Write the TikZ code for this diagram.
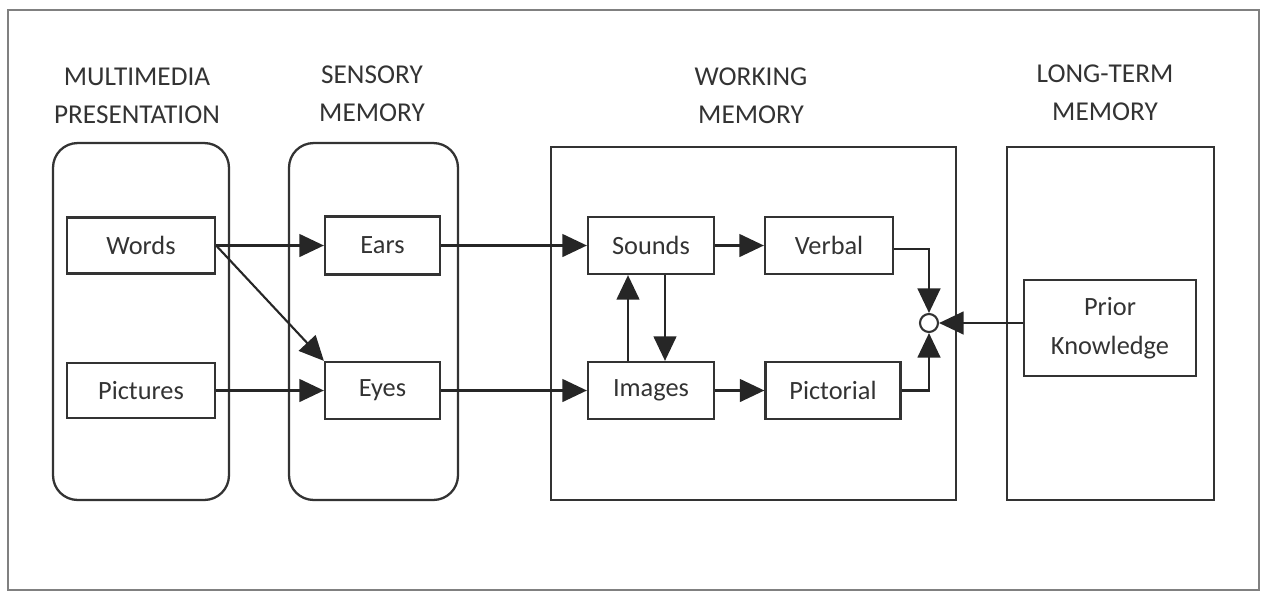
\documentclass[tikz,border=0pt]{standalone}
\usepackage{fontspec}
\setmainfont{Carlito}
\usetikzlibrary{arrows.meta}

\tikzset{
  stage/.style={draw=black!80, line width=1.3pt, inner sep=0pt},
  item/.style={draw=black!80, line width=1.3pt, inner sep=0pt, text=black!80,
    font=\fontsize{15}{22}\selectfont},
  head/.style={text=black!80, align=center, font=\fontsize{15.5}{21.5}\selectfont},
  flow/.style={draw=black!85, line width=1.2pt, -{Triangle[length=14pt,width=13pt]}},
}

\begin{document}
\begin{tikzpicture}[x=0.02cm, y=-0.02cm]
\useasboundingbox (0,0) rectangle (1262,593);
\draw[gray, line width=1.4pt] (8,10) rectangle (1259,590);

% the four stages
\node[stage, rounded corners=14pt, minimum width=3.52cm, minimum height=7.14cm] (mmbox) at (141,321.5) {};
\node[stage, rounded corners=14pt, minimum width=3.38cm, minimum height=7.14cm] (smbox) at (373.5,321.5) {};
\node[stage, minimum width=8.1cm, minimum height=7.06cm] (wmbox) at (753.5,323.5) {};
\node[stage, minimum width=4.14cm, minimum height=7.06cm] (ltmbox) at (1110.5,323.5) {};

\node[head] (mmhead)  at (137,96)  {MULTIMEDIA\\PRESENTATION};
\node[head] (smhead)  at (372,94)  {SENSORY\\MEMORY};
\node[head] (wmhead)  at (751,96)  {WORKING\\MEMORY};
\node[head] (ltmhead) at (1105,93) {LONG-TERM\\MEMORY};

% boxes inside
\node[item, minimum width=2.96cm, minimum height=1.12cm] (words)     at (141,245.5)   {Words};
\node[item, minimum width=2.96cm, minimum height=1.10cm] (pictures)  at (141,390.5)   {Pictures};
\node[item, minimum width=2.30cm, minimum height=1.16cm] (ears)      at (382.5,245.5) {Ears};
\node[item, minimum width=2.30cm, minimum height=1.14cm] (eyes)      at (382.5,390.5) {Eyes};
\node[item, minimum width=2.52cm, minimum height=1.14cm] (sounds)    at (651,245.5)   {Sounds};
\node[item, minimum width=2.52cm, minimum height=1.14cm] (images)    at (651,390.5)   {Images};
\node[item, minimum width=2.56cm, minimum height=1.14cm] (verbal)    at (829,245.5)   {Verbal};
\node[item, minimum width=2.70cm, minimum height=1.14cm] (pictorial) at (833,390.5)   {Pictorial};
\node[item, minimum width=3.44cm, minimum height=1.92cm, align=center] (prior) at (1110,328) {Prior\\Knowledge};
\node[draw=black!80, line width=1.2pt, circle, minimum size=0.36cm, inner sep=0pt] (join) at (929,323) {};

% connectors
\draw[flow] (words.east) -- (ears.west);
\draw[flow] (words.east) -- (eyes.north west);
\draw[flow] (pictures.east) -- (eyes.west);
\draw[flow] (ears.east) -- (sounds.west);
\draw[flow] (eyes.east) -- (images.west);
\draw[flow] (sounds.east) -- (verbal.west);
\draw[flow] (images.east) -- (pictorial.west);
\draw[flow] ([xshift=-0.46cm]images.north) -- ([xshift=-0.46cm]sounds.south);
\draw[flow] ([xshift=0.28cm]sounds.south) -- ([xshift=0.28cm]images.north);
\draw[flow] ([yshift=-0.07cm]verbal.east) -| (join.north);
\draw[flow] (pictorial.east) -| (join.south);
\draw[flow] (prior.west |- join.east) -- (join.east);

\end{tikzpicture}
\end{document}
